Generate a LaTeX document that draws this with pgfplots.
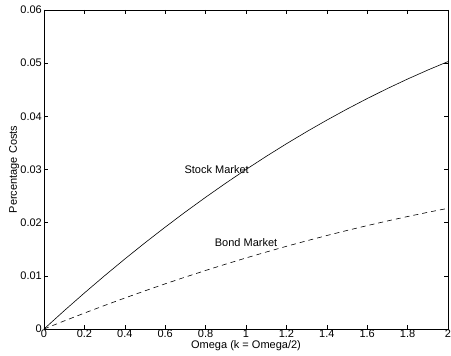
\documentclass[border=0pt]{standalone}
\usepackage{pgfplots}
\pgfplotsset{compat=1.18}
\usepackage{fontspec}
\setmainfont{Liberation Sans}
\begin{document}
\begin{tikzpicture}
\begin{axis}[
  scale only axis,
  width=404pt, height=319pt,
  xmin=0, xmax=2, ymin=0, ymax=0.06,
  xtick={0,0.2,...,2.01},
  ytick={0,0.01,...,0.061},
  tick align=inside,
  major tick length=4pt,
  xtick pos=both, ytick pos=both,
  scaled y ticks=false,
  /pgf/number format/assume math mode=true,
  yticklabel style={/pgf/number format/fixed,/pgf/number format/precision=2, inner sep=1pt, xshift=-1pt},
  xticklabel style={/pgf/number format/fixed, inner sep=1pt},
  tick label style={font=\fontsize{11}{13}\selectfont},
  label style={font=\fontsize{11}{13}\selectfont},
  xlabel={Omega (k = Omega/2)},
  ylabel={Percentage Costs},
  xlabel style={inner sep=0pt, yshift=-1.5pt},
  ylabel style={inner sep=0pt},
  axis line style={line width=0.6pt},
  every tick/.style={line width=0.5pt, black},
]
\addplot[black, line width=0.6pt] coordinates {
(0,0) (0.1,0.003437) (0.2,0.006776) (0.3,0.010019) (0.4,0.013164) (0.5,0.016213)
(0.6,0.019164) (0.7,0.022019) (0.8,0.024776) (0.9,0.027437) (1.0,0.0300)
(1.1,0.032467) (1.2,0.034836) (1.3,0.037109) (1.4,0.039284) (1.5,0.041363)
(1.6,0.043344) (1.7,0.045229) (1.8,0.047016) (1.9,0.048707) (2.0,0.0503)
};
\addplot[black, line width=0.6pt, dash pattern=on 5pt off 4pt] coordinates {
(0,0) (0.1,0.001517) (0.2,0.002994) (0.3,0.004430) (0.4,0.005826) (0.5,0.007183)
(0.6,0.008498) (0.7,0.009774) (0.8,0.011010) (0.9,0.012205) (1.0,0.01336)
(1.1,0.014475) (1.2,0.015550) (1.3,0.016584) (1.4,0.017578) (1.5,0.018533)
(1.6,0.019446) (1.7,0.020320) (1.8,0.021154) (1.9,0.021947) (2.0,0.0227)
};
\node[font=\fontsize{11}{13}\selectfont, anchor=west, inner sep=0pt] at (axis cs:0.695,0.0300) {Stock Market};
\node[font=\fontsize{11}{13}\selectfont, anchor=west, inner sep=0pt] at (axis cs:0.845,0.0162) {Bond Market};
\end{axis}
\pgfresetboundingbox
\useasboundingbox ([xshift=-44pt,yshift=-26pt]current axis.south west) rectangle ([xshift=3pt,yshift=10pt]current axis.north east);
\end{tikzpicture}
\end{document}
